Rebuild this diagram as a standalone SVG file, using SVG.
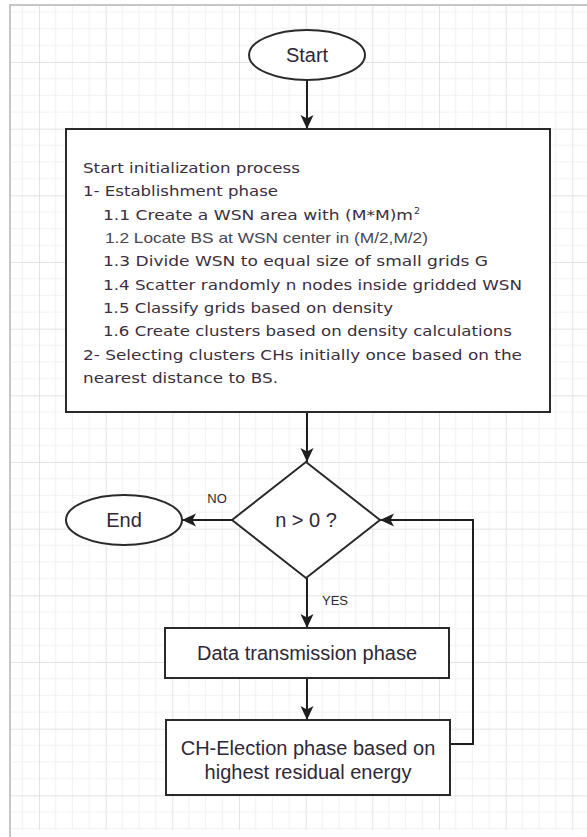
<svg xmlns="http://www.w3.org/2000/svg" width="587" height="837" viewBox="0 0 587 837">
  <defs>
    <!-- background drawing grid: minor lines every 16.67px, major every 66.67px -->
    <pattern id="grid" patternUnits="userSpaceOnUse" x="39" y="62" width="66.667" height="66.667">
      <path d="M16.667,0V66.667M33.333,0V66.667M50,0V66.667M0,16.667H66.667M0,33.333H66.667M0,50H66.667" stroke="#f1f1f1" stroke-width="1" fill="none"/>
      <path d="M0.5,0V66.667M0,0.5H66.667" stroke="#e3e3e3" stroke-width="1" fill="none"/>
    </pattern>
    <marker id="arrow" markerUnits="userSpaceOnUse" markerWidth="16" markerHeight="16" refX="14" refY="7" orient="auto">
      <path d="M0,0.5 L14,7 L0,13.5 L3.5,7 Z" fill="#1e1e1e"/>
    </marker>
    <style>
      .shape { fill: #ffffff; stroke: #2a2a2a; stroke-width: 2; }
      .edge { fill: none; stroke: #1e1e1e; stroke-width: 2; }
      .label { font-family: "Liberation Sans", Arial, sans-serif; font-size: 20px; fill: #2e2838; text-anchor: middle; }
      .small { font-family: "Liberation Sans", Arial, sans-serif; font-size: 13px; fill: #2a2a2a; text-anchor: middle; }
      .body { font-family: "DejaVu Sans", Verdana, sans-serif; font-size: 13.5px; fill: #3a2f40; }
      .body2 { font-family: "Liberation Sans", Tahoma, sans-serif; font-size: 14.5px; fill: #4a4550; }
    </style>
  </defs>

  <!-- canvas -->
  <rect x="0" y="0" width="587" height="837" fill="#ffffff"/>
  <rect x="11" y="6" width="576" height="824" fill="url(#grid)"/>
  <path d="M10,837 V5 H587" fill="none" stroke="#c6c6c6" stroke-width="2"/>

  <!-- connectors -->
  <g id="connectors">
    <path class="edge" d="M307,80 V129" marker-end="url(#arrow)"/>
    <path class="edge" d="M307,412 V462" marker-end="url(#arrow)"/>
    <path class="edge" d="M232,520 H182" marker-end="url(#arrow)"/>
    <path class="edge" d="M307,578 V628" marker-end="url(#arrow)"/>
    <path class="edge" d="M307,678 V720" marker-end="url(#arrow)"/>
    <path class="edge" d="M450,744 H473 V520 H380" marker-end="url(#arrow)"/>
    <text class="small" x="217" y="503">NO</text>
    <text class="small" x="335" y="605">YES</text>
  </g>

  <g id="start">
    <ellipse class="shape" cx="307" cy="55" rx="58" ry="25"/>
    <text class="label" x="307" y="62">Start</text>
  </g>

  <g id="init">
    <rect class="shape" x="66" y="129" width="484" height="283"/>
    <text class="body" x="83" y="173" textLength="217" lengthAdjust="spacingAndGlyphs">Start initialization process</text>
    <text class="body" x="83" y="196.3" textLength="195" lengthAdjust="spacingAndGlyphs">1- Establishment phase</text>
    <text class="body" x="103" y="219.7"><tspan textLength="310" lengthAdjust="spacingAndGlyphs">1.1 Create a WSN area with (M*M)m</tspan><tspan font-size="9.5" dx="1" dy="-6">2</tspan></text>
    <text class="body2" x="105" y="243" textLength="323" lengthAdjust="spacingAndGlyphs">1.2 Locate BS at WSN center in (M/2,M/2)</text>
    <text class="body" x="103" y="266.3" textLength="385" lengthAdjust="spacingAndGlyphs">1.3 Divide WSN to equal size of small grids G</text>
    <text class="body" x="103" y="289.7" textLength="419" lengthAdjust="spacingAndGlyphs">1.4 Scatter randomly n nodes inside gridded WSN</text>
    <text class="body" x="103" y="313" textLength="290" lengthAdjust="spacingAndGlyphs">1.5 Classify grids based on density</text>
    <text class="body" x="103" y="336.3" textLength="409" lengthAdjust="spacingAndGlyphs">1.6 Create clusters based on density calculations</text>
    <text class="body" x="83" y="359.7" textLength="439" lengthAdjust="spacingAndGlyphs">2- Selecting clusters CHs initially once based on the</text>
    <text class="body" x="83" y="383" textLength="195" lengthAdjust="spacingAndGlyphs">nearest distance to BS.</text>
  </g>

  <g id="decision">
    <path class="shape" d="M306,462 L380,520 L306,578 L232,520 Z"/>
    <text class="label" x="306" y="527">n &gt; 0 ?</text>
  </g>

  <g id="end">
    <ellipse class="shape" cx="124" cy="520" rx="58" ry="25"/>
    <text class="label" x="124" y="527">End</text>
  </g>

  <g id="transmission">
    <rect class="shape" x="165" y="628" width="284" height="50"/>
    <text class="label" x="307" y="660">Data transmission phase</text>
  </g>

  <g id="election">
    <rect class="shape" x="166" y="720" width="284" height="75"/>
    <text class="label" x="308" y="755">CH-Election phase based on</text>
    <text class="label" x="308" y="779">highest residual energy</text>
  </g>
</svg>
